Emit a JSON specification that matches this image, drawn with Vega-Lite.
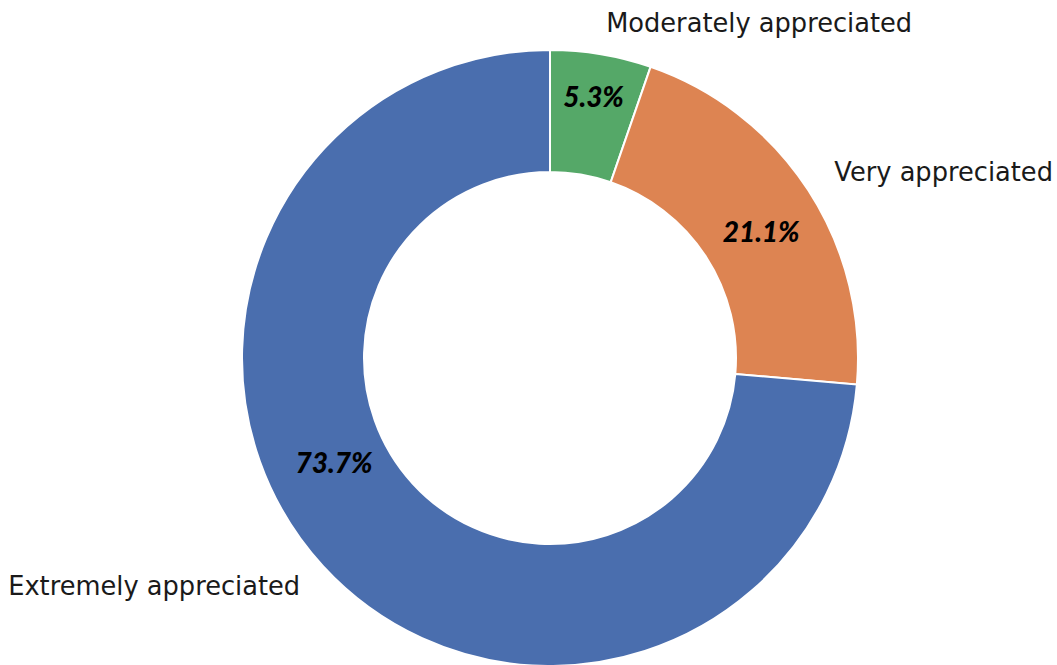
{
  "$schema": "https://vega.github.io/schema/vega-lite/v6.json",
  "width": 1014,
  "height": 614,
  "autosize": {"type": "none"},
  "padding": {"left": 43, "top": 51, "right": 0, "bottom": 0},
  "background": "white",
  "view": {"stroke": null},
  "data": {"values": [
    {"category": "Moderately appreciated", "pct": 5.3, "label": "5.3%"},
    {"category": "Very appreciated", "pct": 21.1, "label": "21.1%"},
    {"category": "Extremely appreciated", "pct": 73.7, "label": "73.7%"}
  ]},
  "encoding": {
    "theta": {"field": "pct", "type": "quantitative", "stack": true},
    "order": {"field": "pct", "sort": "ascending"}
  },
  "layer": [
    {
      "mark": {"type": "arc", "outerRadius": 308, "innerRadius": 186, "stroke": "white", "strokeWidth": 2},
      "encoding": {
        "color": {"field": "category", "type": "nominal",
          "scale": {"domain": ["Extremely appreciated", "Very appreciated", "Moderately appreciated"], "range": ["#4a6eae", "#dd8452", "#55a868"]},
          "legend": null}
      }
    },
    {
      "mark": {"type": "text", "radius": 263, "font": "Lato", "fontSize": 28, "fontWeight": 900, "fontStyle": "italic", "color": "black", "align": "center", "baseline": "middle"},
      "encoding": {"text": {"condition": {"test": "datum.category === 'Moderately appreciated'", "field": "label"}, "value": ""}}
    },
    {
      "mark": {"type": "text", "radius": 245, "thetaOffset": 0.044, "font": "Lato", "fontSize": 28, "fontWeight": 900, "fontStyle": "italic", "color": "black", "align": "center", "baseline": "middle"},
      "encoding": {"text": {"condition": {"test": "datum.category === 'Very appreciated'", "field": "label"}, "value": ""}}
    },
    {
      "mark": {"type": "text", "radius": 241, "thetaOffset": 0.283, "font": "Lato", "fontSize": 28, "fontWeight": 900, "fontStyle": "italic", "color": "black", "align": "center", "baseline": "middle"},
      "encoding": {"text": {"condition": {"test": "datum.category === 'Extremely appreciated'", "field": "label"}, "value": ""}}
    },
    {
      "mark": {"type": "text", "radius": 339, "font": "DejaVu Sans", "fontSize": 25.7, "color": "#1a1a1a", "align": "left", "baseline": "middle"},
      "encoding": {"text": {"condition": {"test": "datum.category !== 'Extremely appreciated'", "field": "category"}, "value": ""}}
    },
    {
      "mark": {"type": "text", "radius": 339, "font": "DejaVu Sans", "fontSize": 25.7, "color": "#1a1a1a", "align": "right", "baseline": "middle"},
      "encoding": {"text": {"condition": {"test": "datum.category === 'Extremely appreciated'", "field": "category"}, "value": ""}}
    }
  ]
}
